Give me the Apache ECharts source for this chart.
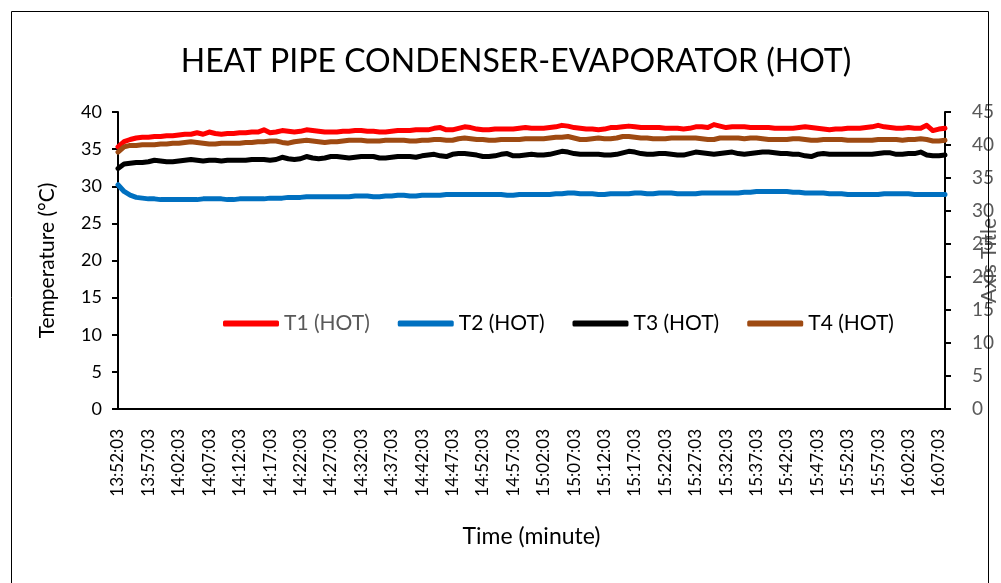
<!DOCTYPE html>
<html>
<head>
<meta charset="utf-8">
<script src="https://cdn.jsdelivr.net/npm/echarts@6.0.0/dist/echarts.min.js"></script>
<style>
    html, body { margin: 0; padding: 0; background: #fff; }
    #chart { width: 1001px; height: 583px; }
</style>
</head>
<body>
<div id="chart"></div>
<script>
// time stamps, one reading per minute
const times = [
    '13:52:03', '13:53:03', '13:54:03', '13:55:03', '13:56:03', '13:57:03', '13:58:03', '13:59:03',
    '14:00:03', '14:01:03', '14:02:03', '14:03:03', '14:04:03', '14:05:03', '14:06:03', '14:07:03', '14:08:03', '14:09:03',
    '14:10:03', '14:11:03', '14:12:03', '14:13:03', '14:14:03', '14:15:03', '14:16:03', '14:17:03', '14:18:03', '14:19:03',
    '14:20:03', '14:21:03', '14:22:03', '14:23:03', '14:24:03', '14:25:03', '14:26:03', '14:27:03', '14:28:03', '14:29:03',
    '14:30:03', '14:31:03', '14:32:03', '14:33:03', '14:34:03', '14:35:03', '14:36:03', '14:37:03', '14:38:03', '14:39:03',
    '14:40:03', '14:41:03', '14:42:03', '14:43:03', '14:44:03', '14:45:03', '14:46:03', '14:47:03', '14:48:03', '14:49:03',
    '14:50:03', '14:51:03', '14:52:03', '14:53:03', '14:54:03', '14:55:03', '14:56:03', '14:57:03', '14:58:03', '14:59:03',
    '15:00:03', '15:01:03', '15:02:03', '15:03:03', '15:04:03', '15:05:03', '15:06:03', '15:07:03', '15:08:03', '15:09:03',
    '15:10:03', '15:11:03', '15:12:03', '15:13:03', '15:14:03', '15:15:03', '15:16:03', '15:17:03', '15:18:03', '15:19:03',
    '15:20:03', '15:21:03', '15:22:03', '15:23:03', '15:24:03', '15:25:03', '15:26:03', '15:27:03', '15:28:03', '15:29:03',
    '15:30:03', '15:31:03', '15:32:03', '15:33:03', '15:34:03', '15:35:03', '15:36:03', '15:37:03', '15:38:03', '15:39:03',
    '15:40:03', '15:41:03', '15:42:03', '15:43:03', '15:44:03', '15:45:03', '15:46:03', '15:47:03', '15:48:03', '15:49:03',
    '15:50:03', '15:51:03', '15:52:03', '15:53:03', '15:54:03', '15:55:03', '15:56:03', '15:57:03', '15:58:03', '15:59:03',
    '16:00:03', '16:01:03', '16:02:03', '16:03:03', '16:04:03', '16:05:03', '16:06:03', '16:07:03', '16:08:03'
];

const t1 = [
    35.3, 36.0, 36.3, 36.5, 36.6, 36.6, 36.7, 36.7, 36.8, 36.8, 36.9, 37.0, 37.0, 37.2, 37.0, 37.3, 37.1,
    37.0, 37.1, 37.1, 37.2, 37.2, 37.3, 37.3, 37.6, 37.2, 37.3, 37.5, 37.4, 37.3, 37.4, 37.6, 37.5, 37.4,
    37.3, 37.3, 37.3, 37.4, 37.4, 37.5, 37.5, 37.4, 37.4, 37.3, 37.3, 37.4, 37.5, 37.5, 37.5, 37.6, 37.6,
    37.6, 37.8, 37.9, 37.6, 37.6, 37.8, 38.0, 37.9, 37.7, 37.6, 37.6, 37.7, 37.7, 37.7, 37.7, 37.8, 37.9,
    37.8, 37.8, 37.8, 37.9, 38.0, 38.2, 38.1, 37.9, 37.8, 37.7, 37.7, 37.6, 37.7, 37.9, 37.9, 38.0, 38.1,
    38.0, 37.9, 37.9, 37.9, 37.9, 37.8, 37.8, 37.8, 37.7, 37.8, 38.0, 38.0, 37.9, 38.3, 38.1, 37.9, 38.0, 38.0,
    38.0, 37.9, 37.9, 37.9, 37.9, 37.8, 37.8, 37.8, 37.8, 37.9, 38.0, 37.9, 37.8, 37.7, 37.6, 37.7, 37.7,
    37.8, 37.8, 37.8, 37.9, 38.0, 38.2, 38.0, 37.9, 37.8, 37.8, 37.9, 37.8, 37.8, 38.2, 37.5, 37.7, 37.8
];
const t2 = [
    30.2, 29.3, 28.8, 28.5, 28.4, 28.3, 28.3, 28.2, 28.2, 28.2, 28.2, 28.2, 28.2, 28.2, 28.3, 28.3, 28.3,
    28.3, 28.2, 28.2, 28.3, 28.3, 28.3, 28.3, 28.3, 28.4, 28.4, 28.4, 28.5, 28.5, 28.5, 28.6, 28.6, 28.6,
    28.6, 28.6, 28.6, 28.6, 28.6, 28.7, 28.7, 28.7, 28.6, 28.6, 28.7, 28.7, 28.8, 28.8, 28.7, 28.7, 28.8,
    28.8, 28.8, 28.8, 28.9, 28.9, 28.9, 28.9, 28.9, 28.9, 28.9, 28.9, 28.9, 28.9, 28.8, 28.8, 28.9, 28.9,
    28.9, 28.9, 28.9, 28.9, 29.0, 29.0, 29.1, 29.1, 29.0, 29.0, 29.0, 28.9, 28.9, 29.0, 29.0, 29.0, 29.0,
    29.1, 29.1, 29.0, 29.0, 29.1, 29.1, 29.1, 29.0, 29.0, 29.0, 29.0, 29.1, 29.1, 29.1, 29.1, 29.1, 29.1, 29.1,
    29.2, 29.2, 29.3, 29.3, 29.3, 29.3, 29.3, 29.3, 29.2, 29.2, 29.1, 29.1, 29.1, 29.1, 29.0, 29.0, 29.0,
    28.9, 28.9, 28.9, 28.9, 28.9, 28.9, 29.0, 29.0, 29.0, 29.0, 29.0, 28.9, 28.9, 28.9, 28.9, 28.9, 28.9
];
const t3 = [
    32.4, 33.0, 33.1, 33.2, 33.2, 33.3, 33.5, 33.4, 33.3, 33.3, 33.4, 33.5, 33.6, 33.5, 33.4, 33.5, 33.5,
    33.4, 33.5, 33.5, 33.5, 33.5, 33.6, 33.6, 33.6, 33.5, 33.6, 33.9, 33.7, 33.6, 33.7, 34.0, 33.8, 33.7,
    33.8, 34.0, 34.0, 33.9, 33.8, 33.9, 34.0, 34.0, 34.0, 33.8, 33.8, 33.9, 34.0, 34.0, 34.0, 33.9, 34.1,
    34.2, 34.3, 34.1, 34.0, 34.3, 34.4, 34.4, 34.3, 34.2, 34.0, 34.0, 34.1, 34.3, 34.4, 34.1, 34.1, 34.2,
    34.3, 34.2, 34.2, 34.3, 34.5, 34.7, 34.6, 34.4, 34.3, 34.3, 34.3, 34.3, 34.2, 34.2, 34.3, 34.5, 34.7,
    34.6, 34.4, 34.3, 34.3, 34.4, 34.4, 34.3, 34.2, 34.2, 34.4, 34.6, 34.5, 34.4, 34.3, 34.4, 34.5, 34.6, 34.4,
    34.3, 34.4, 34.5, 34.6, 34.6, 34.5, 34.4, 34.4, 34.3, 34.3, 34.1, 34.0, 34.3, 34.4, 34.3, 34.3, 34.3,
    34.3, 34.3, 34.3, 34.3, 34.3, 34.4, 34.5, 34.5, 34.3, 34.3, 34.4, 34.4, 34.6, 34.2, 34.1, 34.1, 34.2
];
const t4 = [
    34.6, 35.3, 35.5, 35.5, 35.6, 35.6, 35.6, 35.7, 35.7, 35.8, 35.8, 35.9, 36.0, 35.9, 35.8, 35.7, 35.7,
    35.8, 35.8, 35.8, 35.8, 35.9, 35.9, 36.0, 36.0, 36.1, 36.1, 35.9, 35.8, 36.0, 36.1, 36.2, 36.1, 36.0,
    35.9, 36.0, 36.0, 36.1, 36.2, 36.2, 36.2, 36.1, 36.1, 36.1, 36.2, 36.2, 36.2, 36.2, 36.1, 36.1, 36.2,
    36.2, 36.3, 36.3, 36.2, 36.2, 36.4, 36.5, 36.4, 36.3, 36.3, 36.2, 36.2, 36.3, 36.3, 36.3, 36.3, 36.4,
    36.4, 36.4, 36.4, 36.5, 36.6, 36.6, 36.7, 36.5, 36.3, 36.3, 36.4, 36.5, 36.4, 36.4, 36.5, 36.7, 36.7,
    36.6, 36.5, 36.5, 36.4, 36.4, 36.4, 36.5, 36.5, 36.5, 36.5, 36.5, 36.4, 36.3, 36.3, 36.5, 36.5, 36.5, 36.5,
    36.4, 36.5, 36.5, 36.4, 36.3, 36.3, 36.3, 36.3, 36.4, 36.4, 36.3, 36.2, 36.2, 36.3, 36.3, 36.3, 36.3,
    36.2, 36.2, 36.2, 36.2, 36.2, 36.3, 36.3, 36.3, 36.3, 36.2, 36.3, 36.3, 36.4, 36.3, 36.1, 36.1, 36.2
];

const seriesNames = ['T1 (HOT)', 'T2 (HOT)', 'T3 (HOT)', 'T4 (HOT)'];
const seriesColors = ['#ff0000', '#0070c0', '#000000', '#9e4a12'];
const seriesData = [t1, t2, t3, t4];

const font = 'Lato, "Open Sans", sans-serif';

let myChart = echarts.init(document.getElementById('chart'));
myChart.setOption({
    animation: false,
    textStyle: { fontFamily: font },
    title: {
        text: 'HEAT PIPE CONDENSER-EVAPORATOR (HOT)',
        left: 511,
        top: 41,
        textAlign: 'center',
        textStyle: { fontSize: 32, fontWeight: 'normal', color: '#000', fontFamily: font }
    },
    graphic: [
        {
            type: 'rect',
            shape: { x: 11.5, y: 11.5, width: 977, height: 600 },
            style: { fill: 'none', stroke: '#000', lineWidth: 1 },
            silent: true,
            z: 100
        }
    ],
    legend: {
        left: 218,
        top: 308,
        itemWidth: 56,
        itemHeight: 6,
        itemGap: 28,
        icon: 'roundRect',
        data: seriesNames.map((n, i) => ({
            name: n,
            textStyle: { color: i === 0 ? '#595959' : '#000' }
        })),
        textStyle: { fontSize: 21, fontFamily: font }
    },
    grid: {
        left: 118,
        right: 56,
        top: 112,
        bottom: 174,
        containLabel: false,
        outerBoundsMode: 'none'
    },
    xAxis: {
        type: 'category',
        boundaryGap: false,
        data: times,
        name: 'Time (minute)',
        nameLocation: 'middle',
        nameGap: 116,
        nameTextStyle: { fontSize: 23, color: '#000' },
        axisLine: { lineStyle: { color: '#000', width: 2 } },
        axisTick: { show: false },
        axisLabel: { interval: 4, rotate: 90, fontSize: 17, color: '#000', margin: 20 },
        splitLine: { show: false }
    },
    yAxis: [
        {
            type: 'value',
            min: 0,
            max: 40,
            interval: 5,
            name: 'Temperature (°C)',
            nameLocation: 'middle',
            nameRotate: 90,
            nameGap: 60,
            nameTextStyle: { fontSize: 21, color: '#000' },
            axisLine: { show: true, lineStyle: { color: '#000', width: 2 } },
            axisTick: { show: true, length: 6, lineStyle: { color: '#000', width: 2 } },
            axisLabel: { fontSize: 18, color: '#000', margin: 16 },
            splitLine: { show: false }
        },
        {
            type: 'value',
            position: 'right',
            min: 0,
            max: 45,
            interval: 5,
            name: 'Axis Title',
            nameLocation: 'middle',
            nameRotate: 90,
            nameGap: 34,
            nameMoveOverlap: false,
            nameTextStyle: { fontSize: 21, color: '#595959' },
            axisLine: { show: true, lineStyle: { color: '#000', width: 2 } },
            axisTick: { show: true, length: 6, lineStyle: { color: '#000', width: 2 } },
            axisLabel: { fontSize: 19, color: '#595959', margin: 27 },
            splitLine: { show: false }
        }
    ],
    series: seriesNames.map((n, i) => ({
        name: n,
        type: 'line',
        yAxisIndex: 0,
        data: seriesData[i],
        showSymbol: false,
        symbol: 'none',
        lineStyle: { color: seriesColors[i], width: 5, cap: 'round', join: 'round' },
        itemStyle: { color: seriesColors[i] }
    }))
});
</script>
</body>
</html>
